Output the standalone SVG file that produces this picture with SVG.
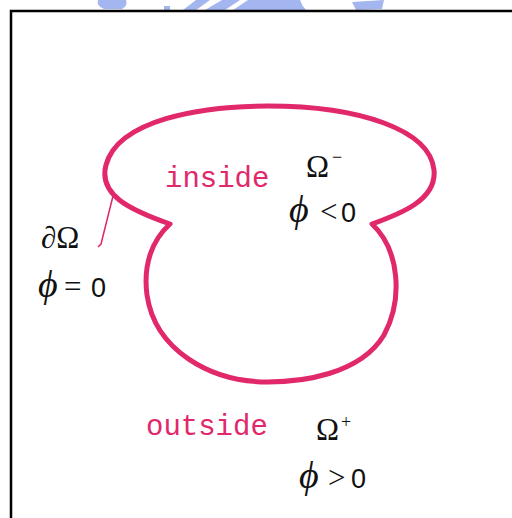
<svg xmlns="http://www.w3.org/2000/svg" width="512" height="518" viewBox="0 0 512 518">
<style>
.wm{fill:#a4b6ef}
.curve{fill:none;stroke:#e0286a;stroke-width:5;stroke-linejoin:round}
.lead{fill:none;stroke:#e0286a;stroke-width:1.5}
.lbl{font-family:"Liberation Mono",monospace;font-size:29px;fill:#e0286a}
.math{font-family:"Liberation Serif","DejaVu Serif",serif;font-size:31px;fill:#111}
.phi{font-family:"Liberation Serif","DejaVu Serif",serif;font-style:italic;font-size:38px}
.num{font-family:"Liberation Sans",sans-serif;font-size:27px}
.sup{font-size:18px}
</style>
<rect width="512" height="518" fill="#fff"/>
<g id="watermark">
<path class="wm" d="M98,0 L126,0 Q128,6 122,9 L104,9 Q96,6 98,0 Z"/>
<path class="wm" d="M164,6 L170,6 L170,10 L164,10 Z"/>
<path class="wm" d="M183,10 L196,0 L210,0 L196,10 Z"/>
<path class="wm" d="M205,10 L222,0 L300,0 Q302,6 306,10 Z"/>
<path d="M225,10 L240,0 L248,0 L233,10 Z" fill="#fff"/>
<path class="wm" d="M352,2 L384,0 L382,9 L356,10 Z"/>
</g>
<g id="frame">
<path d="M11,518 V11 H512" fill="none" stroke="#000" stroke-width="2.5"/>
</g>
<g id="region">
<path class="curve" d="M170,224 C130,210 98,195 106,165 C118,120 200,106 268,106 C360,106 430,130 434,170 C437,200 400,214 372,224 C400,250 403,300 384,335 C360,375 300,382 268,382 C210,382 155,350 147,295 C143,265 152,240 170,224 Z"/>
</g>
<g id="connectors">
<path class="lead" d="M113,196 L101,244 L98,247"/>
</g>
<g id="inside">
<text class="lbl" x="165" y="187">inside</text>
</g>
<g id="outside">
<text class="lbl" x="146" y="435">outside</text>
</g>
<g id="omega-minus">
<text class="math" x="306" y="177">Ω<tspan class="sup" x="332" y="163">−</tspan></text>
<text class="math" y="222"><tspan class="phi" x="289">ϕ</tspan><tspan x="320">&lt;</tspan><tspan class="num" x="341">0</tspan></text>
</g>
<g id="boundary">
<text class="math" x="41" y="248">∂Ω</text>
<text class="math" y="297"><tspan class="phi" x="38">ϕ</tspan><tspan x="64">=</tspan><tspan class="num" x="91">0</tspan></text>
</g>
<g id="omega-plus">
<text class="math" x="316" y="440">Ω<tspan class="sup" x="341" y="428">+</tspan></text>
<text class="math" y="488"><tspan class="phi" x="299">ϕ</tspan><tspan x="328">&gt;</tspan><tspan class="num" x="351">0</tspan></text>
</g>
</svg>
